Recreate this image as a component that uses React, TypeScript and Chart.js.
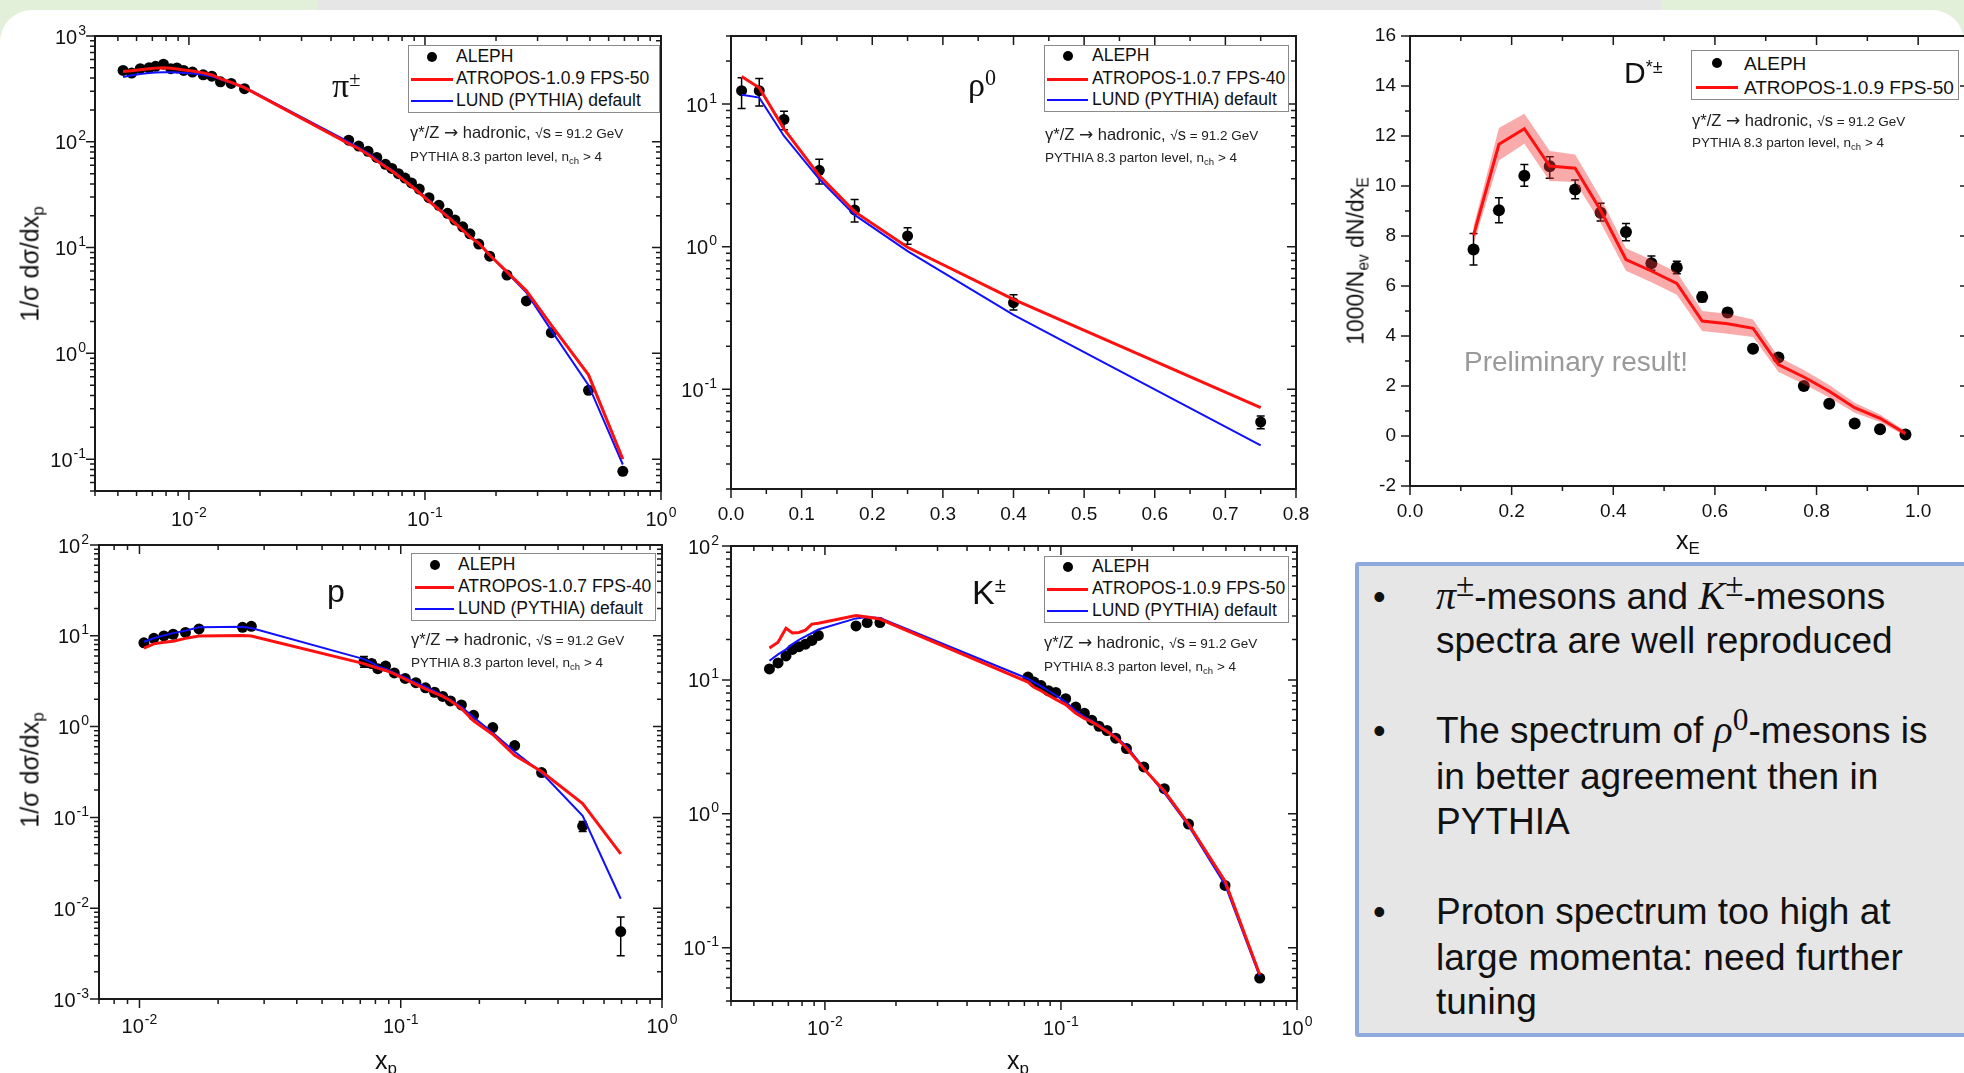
import React, { useEffect, useRef } from "react";
import { Chart, registerables } from "chart.js";
Chart.register(...registerables);

const SANS = "'Liberation Sans', Arial, Helvetica, sans-serif";
const SERIF = "'Liberation Serif', 'Times New Roman', serif";

// ---------------- π± ----------------
const piX = [0.00526, 0.00572, 0.00622, 0.00678, 0.00722, 0.0078, 0.00838, 0.0089, 0.0095, 0.01035, 0.0115, 0.0125, 0.0136, 0.0151, 0.0172, 0.0475, 0.0524, 0.0574, 0.0625, 0.068, 0.0724, 0.0772, 0.0823, 0.0877, 0.0946, 0.104, 0.1146, 0.1247, 0.134, 0.1445, 0.155, 0.169, 0.188, 0.2225, 0.269, 0.343, 0.493, 0.689];
const piAleph = [473, 446, 491, 501, 517, 541, 491, 499, 473, 456, 430, 417, 369, 356, 318, 103.5, 91, 81.4, 71.1, 61.2, 56, 50, 45.4, 40.8, 35.7, 29.6, 25.1, 21.1, 18.2, 15.7, 13.5, 10.8, 8.3, 5.5, 3.13, 1.57, 0.447, 0.0768];
const piAtropos = [462, 470, 480, 490, 497, 502, 495, 488, 478, 466, 448, 428, 395, 365, 325, 96, 86, 76, 66, 58, 53, 47.5, 42.5, 38, 33, 27.5, 22.8, 19.6, 17, 14.6, 12.6, 11.0, 8.5, 5.9, 3.9, 1.85, 0.627, 0.1];
const piLund = [410, 425, 437, 447, 452, 455, 455, 452, 448, 442, 430, 415, 390, 362, 328, 100, 88, 78, 68, 59, 54, 48.5, 43, 38.5, 33.5, 28, 23.2, 20, 17.3, 14.8, 12.8, 11.0, 8.5, 5.8, 3.75, 1.65, 0.5, 0.089];

// ---------------- ρ0 ----------------
const rhoX = [0.015, 0.04, 0.075, 0.125, 0.175, 0.25, 0.4, 0.75];
const rhoAleph = [12.4, 12.4, 7.8, 3.43, 1.81, 1.19, 0.405, 0.059];
const rhoErrHi = [15.3, 15.1, 8.9, 4.1, 2.14, 1.36, 0.46, 0.065];
const rhoErrLo = [9.3, 9.7, 6.6, 2.75, 1.49, 1.04, 0.36, 0.053];
const rhoAtropos = [15.6, 13.0, 6.7, 3.15, 1.76, 0.99, 0.427, 0.0744];
const rhoLund = [11.6, 11.1, 5.97, 2.98, 1.67, 0.93, 0.333, 0.0405];

// ---------------- D*± ----------------
const dX = [0.125, 0.175, 0.225, 0.275, 0.325, 0.375, 0.425, 0.475, 0.525, 0.575, 0.625, 0.675, 0.725, 0.775, 0.825, 0.875, 0.925, 0.975];
const dAleph = [7.46, 9.03, 10.41, 10.79, 9.86, 8.93, 8.16, 6.91, 6.74, 5.56, 4.94, 3.49, 3.14, 2.0, 1.29, 0.5, 0.27, 0.06];
const dErrHi = [8.1, 9.53, 10.86, 11.17, 10.24, 9.31, 8.5, 7.2, 6.99, 5.75, 5.1, 3.62, 3.27, 2.1, 1.38, 0.57, 0.33, 0.1];
const dErrLo = [6.84, 8.53, 9.99, 10.31, 9.49, 8.6, 7.81, 6.63, 6.49, 5.37, 4.78, 3.36, 3.01, 1.9, 1.2, 0.43, 0.21, 0.02];
const dAtropos = [8.03, 11.67, 12.29, 10.8, 10.71, 9.03, 7.06, 6.6, 6.1, 4.6, 4.49, 4.31, 2.86, 2.36, 1.79, 1.13, 0.71, 0.1];
const dBandHi = [8.38, 12.32, 12.89, 11.4, 11.26, 9.53, 7.51, 7.05, 6.55, 5.0, 4.89, 4.66, 3.16, 2.64, 2.04, 1.33, 0.86, 0.2];
const dBandLo = [7.68, 11.02, 11.69, 10.2, 10.16, 8.53, 6.61, 6.15, 5.65, 4.2, 4.09, 3.96, 2.56, 2.08, 1.54, 0.93, 0.56, 0.0];

// ---------------- p ----------------
const pX = [0.0104, 0.01135, 0.0124, 0.01346, 0.015, 0.0169, 0.0248, 0.0268, 0.0723, 0.0774, 0.0817, 0.0875, 0.0945, 0.104, 0.1143, 0.1244, 0.1347, 0.1448, 0.155, 0.1707, 0.19, 0.225, 0.273, 0.346, 0.497, 0.695];
const pAleph = [8.36, 9.38, 9.97, 10.4, 10.9, 11.9, 12.4, 12.7, 5.16, 4.94, 4.34, 4.64, 3.9, 3.39, 3.05, 2.67, 2.39, 2.15, 1.92, 1.73, 1.33, 0.975, 0.618, 0.312, 0.08, 0.00553];
const pErrHi = [8.8, 9.8, 10.4, 10.8, 11.3, 12.4, 13.0, 13.3, 5.9, 5.4, 4.7, 5.0, 4.1, 3.55, 3.2, 2.8, 2.5, 2.25, 2.02, 1.82, 1.4, 1.03, 0.66, 0.335, 0.09, 0.008];
const pErrLo = [7.9, 8.9, 9.5, 10.0, 10.5, 11.4, 11.8, 12.1, 4.5, 4.5, 4.0, 4.3, 3.7, 3.23, 2.9, 2.54, 2.28, 2.05, 1.82, 1.64, 1.26, 0.92, 0.58, 0.29, 0.07, 0.003];
const pAtropos = [7.33, 8.15, 8.5, 8.73, 9.37, 9.95, 10.1, 9.95, 4.94, 4.64, 4.4, 4.15, 3.8, 3.33, 2.92, 2.6, 2.35, 2.15, 1.93, 1.58, 1.16, 0.82, 0.484, 0.32, 0.142, 0.0397];
const pLund = [8.6, 9.4, 10.1, 10.7, 11.4, 12.4, 12.6, 12.2, 5.53, 5.07, 4.6, 4.33, 3.9, 3.48, 3.05, 2.75, 2.45, 2.2, 1.97, 1.65, 1.27, 0.855, 0.528, 0.31, 0.104, 0.0127];

// ---------------- K± ----------------
const kX = [0.00582, 0.00633, 0.00684, 0.00728, 0.00776, 0.00827, 0.00881, 0.00938, 0.01354, 0.0151, 0.0171, 0.0725, 0.0769, 0.0823, 0.0885, 0.0951, 0.1047, 0.1155, 0.1256, 0.135, 0.145, 0.1567, 0.1705, 0.1895, 0.2244, 0.274, 0.347, 0.4955, 0.695];
const kAleph = [12.08, 13.4, 15.1, 16.9, 17.7, 18.5, 19.7, 21.5, 25.3, 26.8, 26.8, 10.5, 9.64, 9.08, 8.3, 8.06, 7.24, 6.27, 5.64, 5.0, 4.5, 4.19, 3.67, 3.07, 2.24, 1.54, 0.838, 0.292, 0.0593];
const kAtropos = [17.3, 19.1, 24.3, 22.4, 22.6, 23.5, 26.1, 26.5, 30.2, 29.5, 28.5, 9.63, 8.81, 8.3, 7.68, 7.15, 6.54, 5.64, 5.16, 4.86, 4.5, 4.11, 3.71, 3.1, 2.17, 1.48, 0.838, 0.314, 0.063];
const kLund = [13.9, 15.5, 16.9, 18.5, 19.9, 21.1, 22.4, 23.8, 28.8, 29.5, 29, 10.2, 9.63, 8.97, 8.3, 7.68, 6.82, 5.91, 5.31, 4.94, 4.57, 4.19, 3.78, 3.2, 2.2, 1.43, 0.814, 0.296, 0.061];

// ---------------- tick labels ----------------
const logXTicks = [0.01, 0.1, 1];
const piYTicks = [0.1, 1, 10, 100, 1000];
const rhoYTicks = [0.1, 1, 10];
const rhoXTicks = [0, 0.1, 0.2, 0.3, 0.4, 0.5, 0.6, 0.7, 0.8];
const dYTicks = [-2, 0, 2, 4, 6, 8, 10, 12, 14, 16];
const dXTicks = [0, 0.2, 0.4, 0.6, 0.8, 1.0];
const pYTicks = [0.001, 0.01, 0.1, 1, 10, 100];
const kYTicks = [0.1, 1, 10, 100];

const LEG_ALEPH = "ALEPH";
const LEG_LUND = "LUND (PYTHIA) default";

const expOf = (v: number) => String(Math.round(Math.log10(v)));
const powLabel = (v: number) => "10^" + expOf(v);
const fix1 = (v: number) => v.toFixed(1);
const intLabel = (v: number) => String(Math.round(v));

type Axis = {
  kind: "log" | "lin";
  min: number;
  max: number;
  ticks: number[];
  step?: number;
  minor?: number;
  fmt: (v: number) => string;
  pad: number;
  size: number;
};

type Spec = {
  plot: { l: number; t: number; r: number; b: number };
  m: { l: number; t: number; r: number; b: number };
  x: Axis;
  y: Axis;
  datasets: any[];
};

function tickMarks(ax: Axis) {
  const out: { v: number; major: boolean }[] = [];
  if (ax.kind === "log") {
    const e0 = Math.floor(Math.log10(ax.min));
    const e1 = Math.ceil(Math.log10(ax.max));
    for (let e = e0; e <= e1; e++) {
      for (let k = 1; k <= 9; k++) {
        const v = k * Math.pow(10, e);
        if (v >= ax.min * 0.999 && v <= ax.max * 1.001) out.push({ v, major: k === 1 });
      }
    }
  } else {
    const minor = ax.minor as number;
    const step = ax.step as number;
    const n = Math.round((ax.max - ax.min) / minor);
    for (let i = 0; i <= n; i++) {
      const v = ax.min + i * minor;
      const r = v / step;
      out.push({ v, major: Math.abs(r - Math.round(r)) < 1e-6 });
    }
  }
  return out;
}

// "10" with a raised exponent, anchored at (x, baseline)
function drawPow(ctx: CanvasRenderingContext2D, v: number, x: number, base: number, align: "center" | "right") {
  const e = expOf(v);
  ctx.font = `20px ${SANS}`;
  const wb = ctx.measureText("10").width;
  ctx.font = `14px ${SANS}`;
  const we = ctx.measureText(e).width;
  const total = wb + 1 + we;
  const x0 = align === "center" ? x - total / 2 : x - total;
  ctx.textAlign = "left";
  ctx.textBaseline = "alphabetic";
  ctx.fillStyle = "#111";
  ctx.font = `20px ${SANS}`;
  ctx.fillText("10", x0, base);
  ctx.font = `14px ${SANS}`;
  ctx.fillText(e, x0 + wb + 1, base - 9);
}

function makeFramePlugin(xa: Axis, ya: Axis) {
  return {
    id: "frameTicks",
    afterDraw(chart: any) {
      const { ctx, chartArea: a, scales } = chart;
      const xs = scales.x;
      const ys = scales.y;
      ctx.save();
      ctx.strokeStyle = "#1a1a1a";
      ctx.lineWidth = 1.5;
      ctx.beginPath();
      for (const t of tickMarks(xa)) {
        const px = xs.getPixelForValue(t.v);
        if (px < a.left - 1 || px > a.right + 1) continue;
        const len = t.major ? 9 : 5;
        ctx.moveTo(px, a.bottom);
        ctx.lineTo(px, a.bottom + len);
        ctx.moveTo(px, a.top);
        ctx.lineTo(px, a.top + len);
      }
      for (const t of tickMarks(ya)) {
        const py = ys.getPixelForValue(t.v);
        if (py < a.top - 1 || py > a.bottom + 1) continue;
        const len = t.major ? 9 : 5;
        ctx.moveTo(a.left - len, py);
        ctx.lineTo(a.left, py);
        ctx.moveTo(a.right - len, py);
        ctx.lineTo(a.right, py);
      }
      ctx.stroke();
      ctx.lineWidth = 2;
      ctx.strokeRect(a.left, a.top, a.right - a.left, a.bottom - a.top);
      // power-of-ten tick labels from the scales' own ticks
      if (xa.kind === "log") {
        for (const t of xs.ticks) drawPow(ctx, t.value, xs.getPixelForValue(t.value), a.bottom + xa.pad + 20, "center");
      }
      if (ya.kind === "log") {
        for (const t of ys.ticks) drawPow(ctx, t.value, a.left - ya.pad, ys.getPixelForValue(t.value) + 7.5, "right");
      }
      ctx.restore();
    },
  };
}

const errorBarPlugin = {
  id: "errbars",
  beforeDatasetsDraw(chart: any) {
    const { ctx, scales } = chart;
    const xs = scales.x;
    const ys = scales.y;
    chart.data.datasets.forEach((ds: any) => {
      if (!ds.errLo) return;
      ctx.save();
      ctx.strokeStyle = "#000";
      ctx.lineWidth = 1.5;
      ctx.beginPath();
      ds.data.forEach((p: any, i: number) => {
        const px = xs.getPixelForValue(p.x);
        const y1 = ys.getPixelForValue(ds.errLo[i]);
        const y2 = ys.getPixelForValue(ds.errHi[i]);
        ctx.moveTo(px, y1);
        ctx.lineTo(px, y2);
        ctx.moveTo(px - 4, y1);
        ctx.lineTo(px + 4, y1);
        ctx.moveTo(px - 4, y2);
        ctx.lineTo(px + 4, y2);
      });
      ctx.stroke();
      ctx.restore();
    });
  },
};

const pts = (xs: number[], ys: number[]) => xs.map((x, i) => ({ x, y: ys[i] }));
const alephDS = (xs: number[], ys: number[], lo?: number[], hi?: number[], r = 5.5) => ({
  label: LEG_ALEPH,
  data: pts(xs, ys),
  showLine: false,
  pointRadius: r,
  pointBackgroundColor: "#000",
  pointBorderColor: "#000",
  pointBorderWidth: 0,
  order: 3,
  errLo: lo,
  errHi: hi,
});
const lineDS = (label: string, xs: number[], ys: number[], color: string, w: number, order: number) => ({
  label,
  data: pts(xs, ys),
  showLine: true,
  pointRadius: 0,
  borderColor: color,
  borderWidth: w,
  fill: false,
  tension: 0,
  order,
});

const RED = "#ff1010";
const BLUE = "#1010ff";

function scaleCfg(ax: Axis, isX: boolean, size: number) {
  return {
    type: ax.kind === "log" ? "logarithmic" : "linear",
    position: isX ? "bottom" : "left",
    min: ax.min,
    max: ax.max,
    grid: { display: false, drawTicks: false },
    border: { display: false },
    ticks: {
      display: ax.kind !== "log",
      autoSkip: false,
      maxRotation: 0,
      minRotation: 0,
      padding: ax.pad,
      color: "#111",
      font: { family: SANS, size: ax.size },
      callback: (v: any) => ax.fmt(Number(v)),
    },
    afterBuildTicks: (s: any) => {
      s.ticks = ax.ticks.map((v) => ({ value: v }));
    },
    afterFit: (s: any) => {
      if (isX) s.height = size;
      else s.width = size;
    },
  };
}

function PlotCanvas({ spec }: { spec: Spec }) {
  const ref = useRef<HTMLCanvasElement>(null);
  const { plot, m } = spec;
  const W = plot.r - plot.l + m.l + m.r;
  const H = plot.b - plot.t + m.t + m.b;
  useEffect(() => {
    const chart = new Chart(ref.current as HTMLCanvasElement, {
      type: "line",
      data: { datasets: spec.datasets },
      options: {
        animation: false,
        responsive: false,
        maintainAspectRatio: false,
        devicePixelRatio: 1,
        events: [],
        layout: { padding: { left: 0, top: m.t, right: m.r, bottom: 0 } },
        plugins: { legend: { display: false }, tooltip: { enabled: false } },
        scales: {
          x: scaleCfg(spec.x, true, m.b),
          y: scaleCfg(spec.y, false, m.l),
        },
      } as any,
      plugins: [makeFramePlugin(spec.x, spec.y), errorBarPlugin],
    } as any);
    return () => chart.destroy();
  }, []);
  return (
    <canvas
      ref={ref}
      width={W}
      height={H}
      style={{ position: "absolute", left: plot.l - m.l, top: plot.t - m.t, width: W, height: H }}
    />
  );
}

const specs: Spec[] = [
  {
    plot: { l: 95, t: 36, r: 661, b: 491 },
    m: { l: 90, t: 30, r: 40, b: 50 },
    x: { kind: "log", min: 0.004, max: 1, ticks: logXTicks, fmt: powLabel, pad: 15, size: 20 },
    y: { kind: "log", min: 0.05, max: 1000, ticks: piYTicks, fmt: powLabel, pad: 9, size: 20 },
    datasets: [
      lineDS("ATROPOS-1.0.9 FPS-50", piX, piAtropos, RED, 3, 0),
      lineDS(LEG_LUND, piX, piLund, BLUE, 2, 1),
      alephDS(piX, piAleph),
    ],
  },
  {
    plot: { l: 731, t: 36, r: 1296, b: 489 },
    m: { l: 70, t: 30, r: 40, b: 50 },
    x: { kind: "lin", min: 0, max: 0.8, step: 0.1, minor: 0.05, ticks: rhoXTicks, fmt: fix1, pad: 14, size: 19 },
    y: { kind: "log", min: 0.02, max: 30, ticks: rhoYTicks, fmt: powLabel, pad: 14, size: 20 },
    datasets: [
      lineDS("ATROPOS-1.0.7 FPS-40", rhoX, rhoAtropos, RED, 3, 0),
      lineDS(LEG_LUND, rhoX, rhoLund, BLUE, 2, 1),
      alephDS(rhoX, rhoAleph, rhoErrLo, rhoErrHi),
    ],
  },
  {
    plot: { l: 1410, t: 36, r: 1969, b: 486 },
    m: { l: 70, t: 30, r: 20, b: 50 },
    x: { kind: "lin", min: 0, max: 1.1, step: 0.2, minor: 0.1, ticks: dXTicks, fmt: fix1, pad: 14, size: 19 },
    y: { kind: "lin", min: -2, max: 16, step: 2, minor: 1, ticks: dYTicks, fmt: intLabel, pad: 14, size: 19 },
    datasets: [
      lineDS("ATROPOS-1.0.9 FPS-50", dX, dAtropos, RED, 3, 0),
      {
        label: "band-hi",
        data: pts(dX, dBandHi),
        showLine: true,
        pointRadius: 0,
        borderColor: "rgba(0,0,0,0)",
        borderWidth: 1,
        backgroundColor: "rgba(240,55,55,0.42)",
        fill: "+1",
        tension: 0,
        order: 1,
      },
      {
        label: "band-lo",
        data: pts(dX, dBandLo),
        showLine: true,
        pointRadius: 0,
        borderColor: "rgba(0,0,0,0)",
        borderWidth: 1,
        fill: false,
        tension: 0,
        order: 1,
      },
      alephDS(dX, dAleph, dErrLo, dErrHi, 6),
    ],
  },
  {
    plot: { l: 99, t: 545, r: 662, b: 999 },
    m: { l: 90, t: 30, r: 40, b: 50 },
    x: { kind: "log", min: 0.007, max: 1, ticks: logXTicks, fmt: powLabel, pad: 14, size: 20 },
    y: { kind: "log", min: 0.001, max: 100, ticks: pYTicks, fmt: powLabel, pad: 10, size: 20 },
    datasets: [
      lineDS("ATROPOS-1.0.7 FPS-40", pX, pAtropos, RED, 3, 0),
      lineDS(LEG_LUND, pX, pLund, BLUE, 2, 1),
      alephDS(pX, pAleph, pErrLo, pErrHi),
    ],
  },
  {
    plot: { l: 731, t: 546, r: 1297, b: 1001 },
    m: { l: 70, t: 30, r: 40, b: 50 },
    x: { kind: "log", min: 0.004, max: 1, ticks: logXTicks, fmt: powLabel, pad: 14, size: 20 },
    y: { kind: "log", min: 0.04, max: 100, ticks: kYTicks, fmt: powLabel, pad: 12, size: 20 },
    datasets: [
      lineDS("ATROPOS-1.0.9 FPS-50", kX, kAtropos, RED, 3, 0),
      lineDS(LEG_LUND, kX, kLund, BLUE, 2, 1),
      alephDS(kX, kAleph),
    ],
  },
];

// ---------- HTML text helpers ----------
const abs = (s: React.CSSProperties): React.CSSProperties => ({ position: "absolute", whiteSpace: "nowrap", ...s });

function Ctr({ x, cy, size, children, style }: any) {
  return (
    <div style={abs({ left: x, top: cy - size / 2, fontSize: size, lineHeight: `${size}px`, ...style })}>{children}</div>
  );
}

function Base({ x, base, size, family, children, style }: any) {
  return (
    <div
      style={abs({ left: x, top: base - 0.845 * size, fontSize: size, lineHeight: `${size}px`, fontFamily: family || SANS, ...style })}
    >
      {children}
    </div>
  );
}

type Row = { kind: "dot" | "line"; color: string; w?: number; label: string; cy: number };
function LegendBox({ l, t, w, h, sym, txt, rows, fs = 17.5 }: { l: number; t: number; w: number; h: number; sym: [number, number]; txt: number; rows: Row[]; fs?: number }) {
  return (
    <div style={abs({ left: l, top: t, width: w, height: h, border: "1.5px solid #8a8a8a", background: "#fff", boxSizing: "border-box" })}>
      {rows.map((r, i) => (
        <React.Fragment key={i}>
          {r.kind === "dot" ? (
            <div style={abs({ left: (sym[0] + sym[1]) / 2 - 5, top: r.cy - 5, width: 10, height: 10, borderRadius: 5, background: "#000" })} />
          ) : (
            <div style={abs({ left: sym[0], top: r.cy - (r.w || 2) / 2, width: sym[1] - sym[0], height: r.w || 2, background: r.color })} />
          )}
          <Ctr x={txt} cy={r.cy} size={fs} style={{ color: "#111" }}>
            {r.label}
          </Ctr>
        </React.Fragment>
      ))}
    </div>
  );
}

function Annot({ x, y1, y2 }: { x: number; y1: number; y2: number }) {
  return (
    <>
      <Ctr x={x} cy={y1} size={16.5} style={{ color: "#222" }}>
        {"\u03B3*/Z "}
        <span style={{ fontFamily: "'DejaVu Sans', sans-serif", fontSize: 17, lineHeight: 0 }}>{"\u2192"}</span>
        {" hadronic, "}
        <span style={{ fontSize: 13.5 }}>{"\u221A"}</span>s<span style={{ fontSize: 13.5 }}> = 91.2 GeV</span>
      </Ctr>
      <Ctr x={x} cy={y2} size={13.5} style={{ color: "#222" }}>
        PYTHIA 8.3 parton level, n
        <span style={{ fontSize: 9.5, position: "relative", top: 3, lineHeight: 0 }}>ch</span>
        {" > 4"}
      </Ctr>
    </>
  );
}

const Sub = ({ children, f = 0.68, dy = 0.3 }: any) => (
  <span style={{ fontSize: `${f}em`, position: "relative", top: `${dy}em`, lineHeight: 0 }}>{children}</span>
);
const Sup = ({ children, f = 0.62, dy = -0.5, family }: any) => (
  <span style={{ fontSize: `${f}em`, position: "relative", top: `${dy}em`, fontFamily: family, fontStyle: "normal", lineHeight: 0 }}>
    {children}
  </span>
);

function RotTitle({ cx, cy, size, children }: any) {
  return (
    <div
      style={abs({
        left: cx,
        top: cy,
        fontSize: size,
        lineHeight: 1,
        transform: "translate(-50%, -50%) rotate(-90deg)",
        color: "#111",
      })}
    >
      {children}
    </div>
  );
}

function MidTitle({ cx, cy, size, children }: any) {
  return (
    <div style={abs({ left: cx, top: cy, fontSize: size, lineHeight: 1, transform: "translate(-50%, -50%)", color: "#111" })}>
      {children}
    </div>
  );
}

const MI: React.CSSProperties = { fontFamily: SERIF, fontStyle: "italic", lineHeight: 0, fontSize: "1.08em" };

function BLine({ cy, children }: any) {
  return (
    <div style={abs({ left: 1436, top: cy - 22.5, height: 45, fontSize: 37, lineHeight: "45px", color: "#111" })}>{children}</div>
  );
}

export default function App() {
  const threeRows = (atropos: string, c: number[]): Row[] => [
    { kind: "dot", color: "#000", label: LEG_ALEPH, cy: c[0] },
    { kind: "line", color: RED, w: 3, label: atropos, cy: c[1] },
    { kind: "line", color: BLUE, w: 2, label: LEG_LUND, cy: c[2] },
  ];
  const PM = <Sup f={0.9} dy={-0.38} family={SERIF}>{"\u00B1"}</Sup>;
  return (
    <div
      style={{
        position: "fixed",
        left: 0,
        top: 0,
        width: 1964,
        height: 1073,
        overflow: "hidden",
        background: "#e2efd9",
        fontFamily: SANS,
        color: "#111",
      }}
    >
      <div style={abs({ left: 318, top: 0, width: 1343, height: 14, background: "#e6e6e6" })} />
      <div style={abs({ left: 0, top: 10, width: 1964, height: 1100, background: "#fff", borderRadius: "32px 32px 0 0" })} />

      {specs.map((s, i) => (
        <PlotCanvas key={i} spec={s} />
      ))}

      {/* Legends */}
      <LegendBox l={408} t={45} w={252} h={68} sym={[2, 44]} txt={47} rows={threeRows("ATROPOS-1.0.9 FPS-50", [11, 33, 55])} />
      <LegendBox l={1044} t={45} w={245} h={67} sym={[2, 43]} txt={47} rows={threeRows("ATROPOS-1.0.7 FPS-40", [10, 33, 54])} />
      <LegendBox
        l={1691}
        t={50}
        w={268}
        h={50}
        sym={[4, 46]}
        txt={52}
        fs={19}
        rows={[
          { kind: "dot", color: "#000", label: LEG_ALEPH, cy: 12 },
          { kind: "line", color: RED, w: 3, label: "ATROPOS-1.0.9 FPS-50", cy: 36 },
        ]}
      />
      <LegendBox l={411} t={553} w={245} h={68} sym={[3, 42]} txt={46} rows={threeRows("ATROPOS-1.0.7 FPS-40", [11, 33, 55])} />
      <LegendBox l={1044} t={556} w={245} h={67} sym={[2, 43]} txt={47} rows={threeRows("ATROPOS-1.0.9 FPS-50", [10, 32, 54])} />

      {/* Annotations */}
      <Annot x={410} y1={132} y2={157} />
      <Annot x={1045} y1={134} y2={158} />
      <Annot x={1692} y1={120} y2={143} />
      <Annot x={411} y1={639} y2={663} />
      <Annot x={1044} y1={642} y2={667} />

      {/* Particle labels */}
      <Base x={332} base={98} size={34} family={SERIF}>
        {"\u03C0"}
        <Sup f={0.6} dy={-0.55}>{"\u00B1"}</Sup>
      </Base>
      <Base x={968} base={97} size={34} family={SERIF}>
        {"\u03C1"}
        <Sup f={0.65} dy={-0.5}>0</Sup>
      </Base>
      <Base x={1624} base={83} size={30}>
        D<Sup f={0.6} dy={-0.55}>{"*\u00B1"}</Sup>
      </Base>
      <Base x={327} base={602} size={32}>
        p
      </Base>
      <Base x={972} base={604} size={34}>
        K<Sup f={0.6} dy={-0.6}>{"\u00B1"}</Sup>
      </Base>

      <Ctr x={1464} cy={362} size={28} style={{ color: "#9a9a9a" }}>
        Preliminary result!
      </Ctr>

      {/* Axis titles */}
      <RotTitle cx={30} cy={264} size={25}>
        {"1/\u03C3 d\u03C3/dx"}
        <Sub>p</Sub>
      </RotTitle>
      <RotTitle cx={30} cy={770} size={25}>
        {"1/\u03C3 d\u03C3/dx"}
        <Sub>p</Sub>
      </RotTitle>
      <RotTitle cx={1356} cy={261} size={23}>
        1000/N<Sub>ev</Sub> dN/dx<Sub>E</Sub>
      </RotTitle>
      <MidTitle cx={1688} cy={540} size={25}>
        x<Sub>E</Sub>
      </MidTitle>
      <MidTitle cx={386} cy={1060} size={25}>
        x<Sub>p</Sub>
      </MidTitle>
      <MidTitle cx={1018} cy={1060} size={25}>
        x<Sub>p</Sub>
      </MidTitle>

      {/* Conclusions box */}
      <div
        style={abs({
          left: 1355,
          top: 562,
          width: 680,
          height: 475,
          background: "#e7e6e6",
          border: "4px solid #8eaadb",
          boxSizing: "border-box",
          borderRadius: 3,
        })}
      />
      {[596, 730, 911].map((c, i) => (
        <div key={i} style={abs({ left: 1373, top: c - 22.5, fontSize: 36, lineHeight: "45px", color: "#111" })}>
          {"\u2022"}
        </div>
      ))}
      <BLine cy={596}>
        <span style={MI}>{"\u03C0"}</span>
        {PM}-mesons and <span style={MI}>K</span>
        {PM}-mesons
      </BLine>
      <BLine cy={640}>spectra are well reproduced</BLine>
      <BLine cy={730}>
        The spectrum of <span style={MI}>{"\u03C1"}</span>
        <Sup f={0.85} dy={-0.4} family={SERIF}>0</Sup>-mesons is
      </BLine>
      <BLine cy={776}>in better agreement then in</BLine>
      <BLine cy={821}>PYTHIA</BLine>
      <BLine cy={911}>Proton spectrum too high at</BLine>
      <BLine cy={957}>large momenta: need further</BLine>
      <BLine cy={1001}>tuning</BLine>
    </div>
  );
}
